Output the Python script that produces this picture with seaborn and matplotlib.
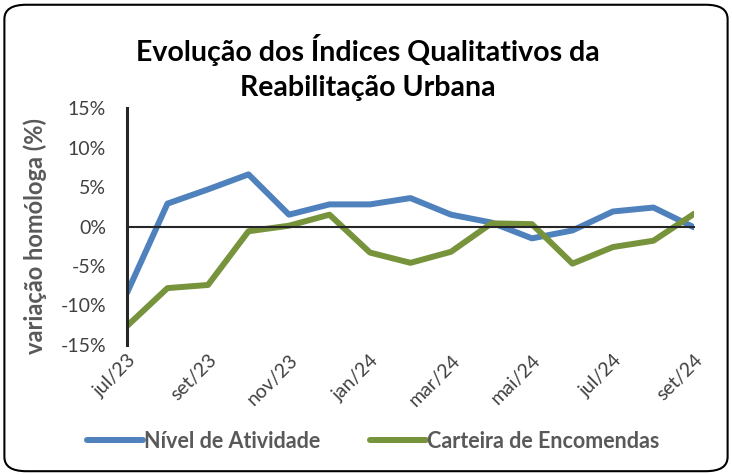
import matplotlib
matplotlib.use("Agg")
import matplotlib.pyplot as plt
import seaborn as sns
import pandas as pd
from matplotlib.patches import FancyBboxPatch
from matplotlib.ticker import FuncFormatter

# data (variação homóloga, %)
meses = ["jul/23", "ago/23", "set/23", "out/23", "nov/23", "dez/23", "jan/24", "fev/24",
         "mar/24", "abr/24", "mai/24", "jun/24", "jul/24", "ago/24", "set/24"]
nivel_atividade = [-8.4, 2.9, 4.7, 6.6, 1.5, 2.8, 2.8, 3.6, 1.5, 0.5, -1.5, -0.5, 1.9, 2.4, -0.1]
carteira_encomendas = [-12.6, -7.8, -7.4, -0.6, 0.1, 1.5, -3.3, -4.6, -3.2, 0.4, 0.3, -4.7, -2.6, -1.8, 1.6]
tick_labels = meses[::2]

df = pd.DataFrame({
    "mes": list(range(len(meses))) * 2,
    "valor": nivel_atividade + carteira_encomendas,
    "serie": ["Nível de Atividade"] * len(meses) + ["Carteira de Encomendas"] * len(meses),
})

sns.set_style("white")
plt.rcParams["font.family"] = ["Lato", "DejaVu Sans"]

fig = plt.figure(figsize=(7.32, 4.75), dpi=100)
ax = fig.add_axes([0.1735, 0.2737, 0.7745, 0.4989])

sns.lineplot(data=df, x="mes", y="valor", hue="serie",
             palette=["#4F81BD", "#77933C"], linewidth=4.3, ax=ax, legend=True)

ax.set_xlim(0, len(meses) - 1)
ax.set_ylim(-15, 15)
ax.set_yticks([-15, -10, -5, 0, 5, 10, 15])
ax.yaxis.set_major_formatter(FuncFormatter(lambda v, p: f"{v:.0f}%"))
ax.tick_params(axis="y", length=0, pad=15, labelsize=14, labelcolor="#404040")

ax.set_xticks(range(0, len(meses), 2))
ax.set_xticklabels(tick_labels)
ax.spines["bottom"].set_position(("data", 0))
ax.spines["bottom"].set_linewidth(1.5)
ax.spines["left"].set_linewidth(2.2)
for s in ["top", "right"]:
    ax.spines[s].set_visible(False)
ax.tick_params(axis="x", direction="out", length=4, width=1.5, color="black",
               pad=86, labelsize=14, labelcolor="#404040")
plt.setp(ax.get_xticklabels(), rotation=45, ha="right", rotation_mode="anchor")
for lbl in ax.get_xticklabels():
    lbl.set_x(lbl.get_position()[0])

ax.set_xlabel("")
ax.set_ylabel("")

fig.text(0.048, 0.503, "variação homóloga (%)", rotation=90, ha="center", va="center",
         fontsize=17, fontweight="bold", color="#595959")

fig.text(0.503, 0.895, "Evolução dos Índices Qualitativos da", ha="center", va="center",
         fontsize=20.5, fontweight="bold", color="black")
fig.text(0.503, 0.815, "Reabilitação Urbana", ha="center", va="center",
         fontsize=20.5, fontweight="bold", color="black")

handles, labels = ax.get_legend_handles_labels()
leg = ax.legend(handles, labels, loc="center", bbox_to_anchor=(0.51, 0.071),
                bbox_transform=fig.transFigure, ncol=2, frameon=False,
                handlelength=2.6, handletextpad=0.05, columnspacing=2.3,
                prop={"size": 15.5, "weight": "bold"})
for t in leg.get_texts():
    t.set_color("#595959")

border = FancyBboxPatch((0.006, 0.008), 0.988, 0.982, boxstyle="round,pad=0,rounding_size=0.03",
                        transform=fig.transFigure, fill=False, edgecolor="black", linewidth=1.5)
fig.patches.append(border)

fig.savefig("out.png", dpi=100)
